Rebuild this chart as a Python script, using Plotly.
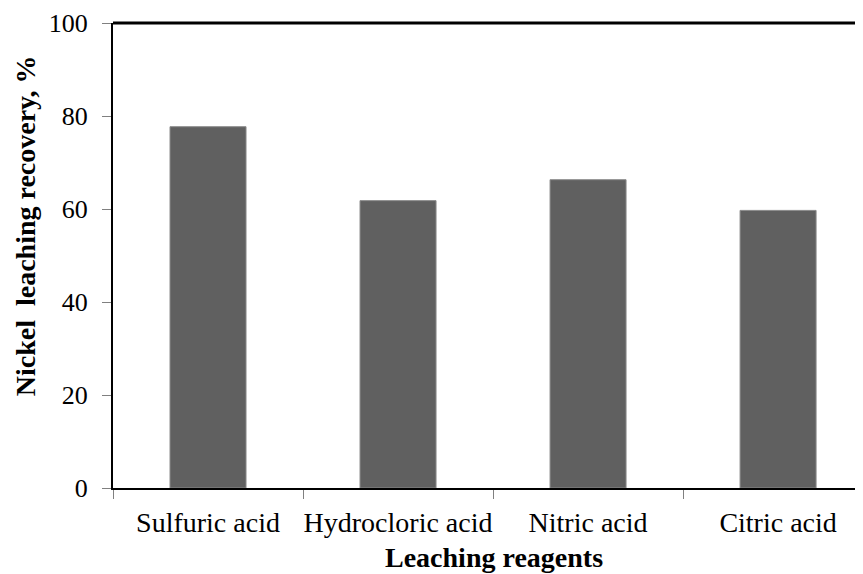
import plotly.graph_objects as go

categories = ["Sulfuric acid", "Hydrocloric acid", "Nitric acid", "Citric acid"]
recovery = [77.7, 61.8, 66.3, 59.7]
y_ticks = [0, 20, 40, 60, 80, 100]

FONT = "Liberation Serif"

fig = go.Figure()
fig.add_trace(go.Bar(
    x=categories, y=recovery, width=0.4,
    marker=dict(color="#606060", line=dict(color="#8a8a8a", width=1)),
))

fig.update_layout(
    width=863, height=574,
    margin=dict(l=105, r=0, t=15, b=94, autoexpand=False),
    paper_bgcolor="white", plot_bgcolor="white",
    showlegend=False,
    font=dict(family=FONT, color="black"),
)
fig.update_xaxes(
    type="category", range=[-0.5, 3.489], automargin=False,
    showline=True, linecolor="black", linewidth=2,
    ticks="outside", tickson="boundaries", ticklen=9, tickcolor="#808080", tickwidth=1,
    tickfont=dict(family=FONT, size=28, color="black"), tickangle=0,
    ticklabelstandoff=8,
    showgrid=False, zeroline=False,
)
fig.update_yaxes(
    range=[0, 100], tickvals=y_ticks, automargin=False,
    showline=True, linecolor="black", linewidth=2,
    ticks="outside", ticklen=9, tickcolor="#808080", tickwidth=1,
    tickfont=dict(family=FONT, size=26, color="black"),
    ticklabelstandoff=9,
    showgrid=False, zeroline=False,
)
fig.add_shape(type="line", xref="paper", yref="paper", x0=0, x1=1, y0=1, y1=1,
              line=dict(color="black", width=3))
fig.add_annotation(text="<b>Leaching reagents</b>", xref="paper", yref="paper",
                   x=0.5026, y=-0.1505, xanchor="center", yanchor="middle",
                   showarrow=False, font=dict(family=FONT, size=28, color="black"))
fig.add_annotation(text="<b>Nickel  leaching recovery, %</b>", xref="paper", yref="paper",
                   x=-0.116, y=0.563, xanchor="center", yanchor="middle", textangle=-90,
                   showarrow=False, font=dict(family=FONT, size=28, color="black"))

fig.write_html("out.html")
